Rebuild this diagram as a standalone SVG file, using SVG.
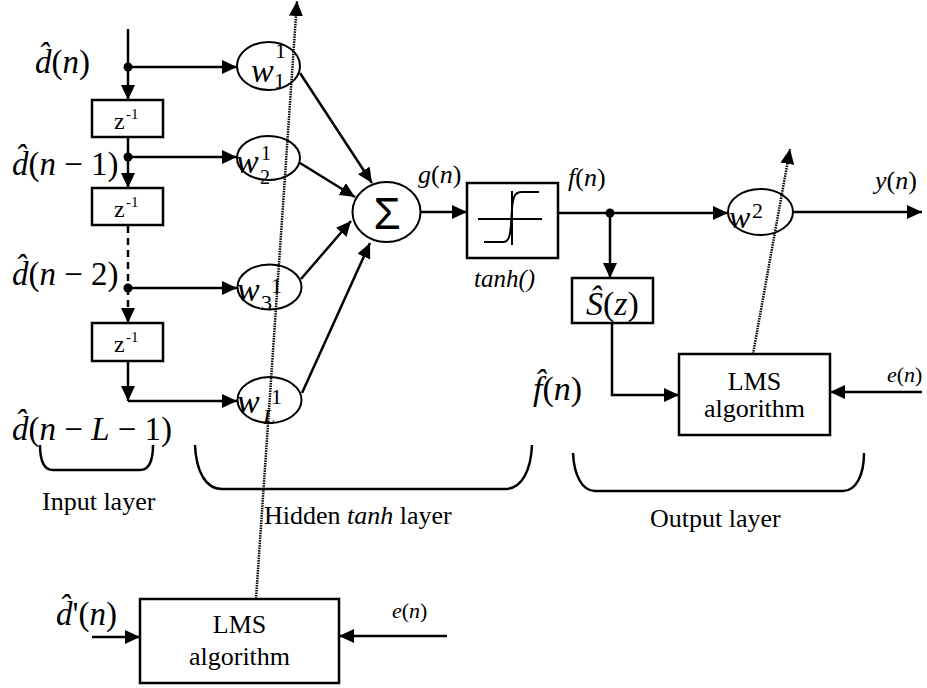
<svg xmlns="http://www.w3.org/2000/svg" width="927" height="688" viewBox="0 0 927 688">
<style>
.ln{stroke:#000;stroke-width:2.5;fill:none}
.dash{stroke:#000;stroke-width:2.5;fill:none;stroke-dasharray:7 5}
.dots{stroke:#000;stroke-width:2.5;fill:none;stroke-dasharray:1.5 1}
.bx{stroke:#000;stroke-width:2.5;fill:#fff}
.el{stroke:#000;stroke-width:2;fill:none}
.t{font-family:"Liberation Serif","Times New Roman",serif;fill:#000}
.i{font-style:italic}
</style>
<defs>
<marker id="ah" markerWidth="15" markerHeight="14" refX="15" refY="7" orient="auto" markerUnits="userSpaceOnUse">
<path d="M0,0 L15,7 L0,14 z" fill="#000"/>
</marker>
</defs>
<rect width="927" height="688" fill="#fff"/>

<g id="connectors">
<path class="ln" d="M128,29 V67"/>
<path class="ln" d="M128,67 H237" marker-end="url(#ah)"/>
<path class="ln" d="M128,67 V100" marker-end="url(#ah)"/>
<path class="ln" d="M128,137 V157"/>
<path class="ln" d="M128,157 H237" marker-end="url(#ah)"/>
<path class="ln" d="M128,157 V188" marker-end="url(#ah)"/>
<path class="dash" d="M128,226 V288"/>
<path class="ln" d="M128,288 H237" marker-end="url(#ah)"/>
<path class="dash" d="M128,288 V308"/>
<path class="ln" d="M128,308 V323" marker-end="url(#ah)"/>
<path class="ln" d="M128,361 V401" marker-end="url(#ah)"/>
<path class="ln" d="M128,401 H237" marker-end="url(#ah)"/>
<path class="ln" d="M300,73 L372,183" marker-end="url(#ah)"/>
<path class="ln" d="M300,163 L355,197" marker-end="url(#ah)"/>
<path class="ln" d="M301,279 L351,221" marker-end="url(#ah)"/>
<path class="ln" d="M302,393 L370,243" marker-end="url(#ah)"/>
<path class="ln" d="M420,212 H467" marker-end="url(#ah)"/>
<path class="ln" d="M558,213 H728" marker-end="url(#ah)"/>
<path class="ln" d="M610,213 V278" marker-end="url(#ah)"/>
<path class="ln" d="M793,212 H922" marker-end="url(#ah)"/>
<path class="ln" d="M612,323 V395 H679" marker-end="url(#ah)"/>
<path class="ln" d="M922,392 H830" marker-end="url(#ah)"/>
<path class="dots" d="M753,354 L790,149" marker-end="url(#ah)"/>
<path class="dots" d="M256,599 L297,1" marker-end="url(#ah)"/>
<path class="ln" d="M92,637 H140" marker-end="url(#ah)"/>
<path class="ln" d="M447,636 H339" marker-end="url(#ah)"/>
<circle cx="128" cy="67" r="4.5" fill="#000"/>
<circle cx="128" cy="157" r="4.5" fill="#000"/>
<circle cx="128" cy="288" r="4.5" fill="#000"/>
<circle cx="610" cy="213" r="4.5" fill="#000"/>
</g>

<g id="delay1">
<rect class="bx" x="92" y="100" width="71" height="37"/>
<text class="t" x="114" y="129" font-size="24">z</text><text class="t" x="126" y="119" font-size="15">-1</text>
</g>
<g id="delay2">
<rect class="bx" x="92" y="188" width="71" height="37"/>
<text class="t" x="114" y="217" font-size="24">z</text><text class="t" x="126" y="207" font-size="15">-1</text>
</g>
<g id="delay3">
<rect class="bx" x="92" y="323" width="71" height="38"/>
<text class="t" x="114" y="352" font-size="24">z</text><text class="t" x="126" y="342" font-size="15">-1</text>
</g>

<g id="w1">
<ellipse class="el" cx="268.5" cy="66" rx="31.5" ry="24"/>
<text class="t i" x="251" y="82" font-size="34">w</text>
<text class="t" x="275" y="58" font-size="22">1</text>
<text class="t" x="274" y="88" font-size="22">1</text>
</g>
<g id="w2">
<ellipse class="el" cx="268.5" cy="158" rx="31.5" ry="22"/>
<text class="t i" x="236" y="173" font-size="34">w</text>
<text class="t" x="261" y="160" font-size="20">1</text>
<text class="t" x="260" y="184" font-size="20">2</text>
</g>
<g id="w3">
<ellipse class="el" cx="269.5" cy="287" rx="32" ry="22.5"/>
<text class="t i" x="237" y="301" font-size="34">w</text>
<text class="t" x="271" y="293" font-size="22">1</text>
<text class="t" x="261" y="310" font-size="22">3</text>
</g>
<g id="wL">
<ellipse class="el" cx="269.5" cy="400" rx="32" ry="23"/>
<text class="t i" x="237" y="413" font-size="34">w</text>
<text class="t" x="271" y="404" font-size="22">1</text>
<text class="t i" x="263" y="424" font-size="22">L</text>
</g>

<g id="sum">
<ellipse class="el" cx="386.5" cy="212" rx="34" ry="30" stroke-width="2.5"/>
<text class="t" x="387" y="229" font-size="44" text-anchor="middle" style="font-family:'Liberation Sans','DejaVu Sans',sans-serif">Σ</text>
</g>
<text class="t" x="418" y="183" font-size="26"><tspan class="i">g</tspan>(<tspan class="i">n</tspan>)</text>

<g id="tanh">
<rect class="bx" x="467" y="183" width="91" height="75" stroke-width="2"/>
<path d="M478,219 H542 M512,191 V245" stroke="#000" stroke-width="2" fill="none"/>
<path d="M484,242 H503 C508,242 510,238 511,225 L512,209 C513,196 515,192 522,192 H539" stroke="#000" stroke-width="2" fill="none"/>
<text class="t i" x="474" y="287" font-size="25">tanh()</text>
</g>

<text class="t" x="568" y="186" font-size="26"><tspan class="i">f</tspan>(<tspan class="i">n</tspan>)</text>

<g id="w2out">
<ellipse class="el" cx="760.5" cy="212" rx="32.5" ry="23"/>
<text class="t i" x="729" y="228" font-size="32">w</text>
<text class="t" x="752" y="218" font-size="22">2</text>
</g>
<text class="t" x="875" y="189" font-size="26"><tspan class="i">y</tspan>(<tspan class="i">n</tspan>)</text>

<g id="shat">
<rect class="bx" x="572" y="278" width="81" height="45" stroke-width="2"/>
<text class="t" x="586" y="315" font-size="34"><tspan class="i">Ŝ</tspan>(<tspan class="i">z</tspan>)</text>
</g>

<g id="lms_out">
<rect class="bx" x="679" y="354" width="151" height="81"/>
<text class="t" x="754.5" y="390" font-size="26" text-anchor="middle">LMS</text>
<text class="t" x="754.5" y="417" font-size="26" text-anchor="middle">algorithm</text>
</g>
<text class="t" x="887" y="382" font-size="22"><tspan class="i">e</tspan>(<tspan class="i">n</tspan>)</text>

<g id="lms_hidden">
<rect class="bx" x="140" y="599" width="199" height="84"/>
<text class="t" x="239.5" y="633" font-size="26" text-anchor="middle">LMS</text>
<text class="t" x="239.5" y="665" font-size="26" text-anchor="middle">algorithm</text>
</g>
<text class="t" x="392" y="618" font-size="22"><tspan class="i">e</tspan>(<tspan class="i">n</tspan>)</text>

<g id="labels">
<text class="t" x="35" y="73" font-size="33"><tspan class="i">d̂</tspan>(<tspan class="i">n</tspan>)</text>
<text class="t" x="12" y="175" font-size="33"><tspan class="i">d̂</tspan>(<tspan class="i">n</tspan> − 1)</text>
<text class="t" x="12" y="285" font-size="33"><tspan class="i">d̂</tspan>(<tspan class="i">n</tspan> − 2)</text>
<text class="t" x="12" y="440" font-size="33"><tspan class="i">d̂</tspan>(<tspan class="i">n</tspan> − <tspan class="i">L</tspan> − 1)</text>
<text class="t" x="533" y="400" font-size="34"><tspan class="i">f̂</tspan>(<tspan class="i">n</tspan>)</text>
<text class="t" x="56" y="625" font-size="33"><tspan class="i">d̂</tspan>'(<tspan class="i">n</tspan>)</text>
</g>

<g id="braces">
<path class="ln" d="M40,445 Q40,470 53,470 H140 Q153,470 153,445" stroke-width="2"/>
<path class="ln" d="M195,445 C196,470 205,489 222,489 H505 C522,489 531,470 532,445" stroke-width="2"/>
<path class="ln" d="M573,453 C574,475 582,491 595,491 H843 C856,491 864,475 864,453" stroke-width="2"/>
<text class="t" x="42" y="510" font-size="26">Input layer</text>
<text class="t" x="264" y="524" font-size="26">Hidden <tspan class="i">tanh</tspan> layer</text>
<text class="t" x="650" y="527" font-size="26">Output layer</text>
</g>
</svg>
